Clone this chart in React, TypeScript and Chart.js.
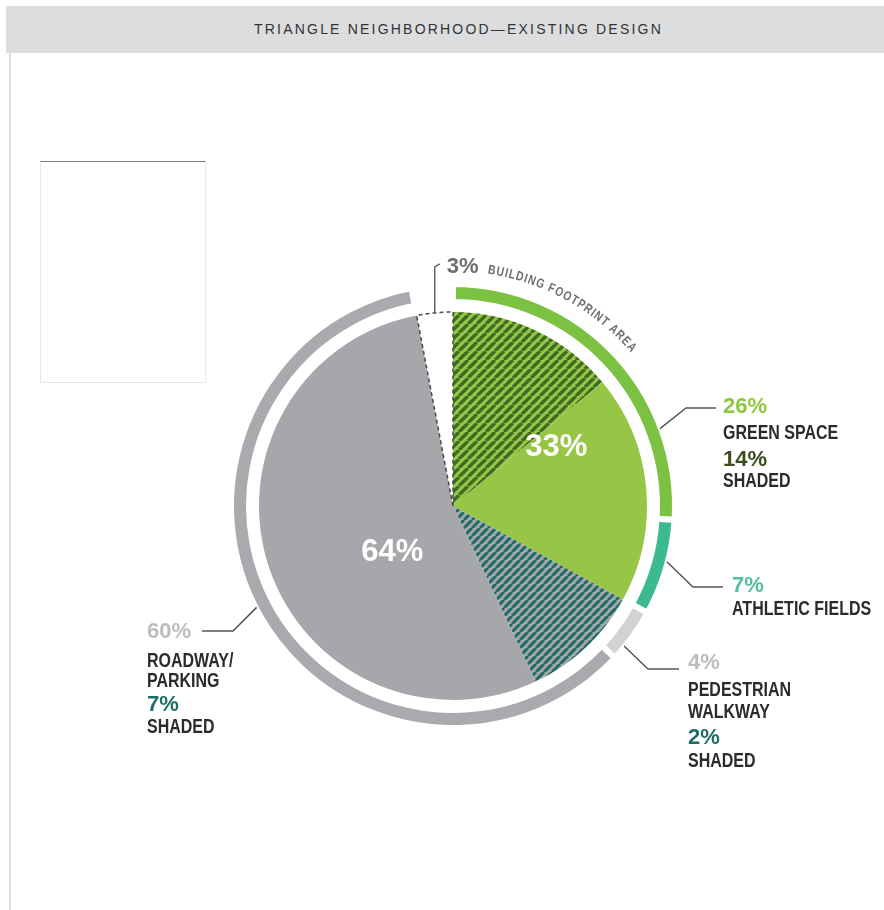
import React, { useEffect, useRef } from 'react';
import { Chart, registerables } from 'chart.js';

Chart.register(...registerables);

// ---------- data ----------
const TITLE = 'TRIANGLE NEIGHBORHOOD\u2014EXISTING DESIGN';
const ringLabels = ['Building footprint area', 'Green space', 'Athletic fields', 'Pedestrian walkway', 'Roadway/parking'];
const ringValues = [3, 26, 7, 4, 60];
const pieLabels = ['Building footprint area', 'Green space (shaded)', 'Green space', 'Roadway & walkway (shaded)', 'Roadway & walkway'];
const pieValues = [3, 14, 19, 10, 54];
const shadedLabels = ['Green space', 'Pedestrian walkway', 'Roadway/parking'];
const shadedValues = [14, 2, 7];
const pieTotals = [33, 64];
const BUILDING_TEXT = 'BUILDING FOOTPRINT AREA';

const pct = (v: number) => `${v}%`;

// ---------- styles ----------
const C = {
  ringGreen: '#7cc242',
  ringTeal: '#3cb98d',
  ringPed: '#d1d2d4',
  ringGray: '#a9aaae',
  pieGreen: '#97c647',
  greenStripe: '#3f6b23',
  pieGray: '#a6a7ab',
  tealStripe: '#1f6b67',
  lightGreenTxt: '#8dc63f',
  olive: '#3c4a1c',
  athleticTxt: '#52c09c',
  grayTxt: '#bcbdc0',
  darkTeal: '#1c6e68',
  word: '#2b2b2b',
  leader: '#555555',
};

function hatch(bg: string, fg: string, size: number, lw: number) {
  const c = document.createElement('canvas');
  c.width = size;
  c.height = size;
  const g = c.getContext('2d')!;
  g.fillStyle = bg;
  g.fillRect(0, 0, size, size);
  g.strokeStyle = fg;
  g.lineWidth = lw;
  g.beginPath();
  for (const k of [-size, 0, size]) {
    g.moveTo(k, size);
    g.lineTo(k + size, 0);
  }
  g.stroke();
  return g.createPattern(c, 'repeat')!;
}

const toXY = (cx: number, cy: number, r: number, degFromTop: number) => {
  const a = ((degFromTop - 90) * Math.PI) / 180;
  return [cx + r * Math.cos(a), cy + r * Math.sin(a)];
};

const overlayPlugin = {
  id: 'overlay',
  afterDatasetsDraw(chart: any) {
    const ctx: CanvasRenderingContext2D = chart.ctx;
    const ring = chart.getDatasetMeta(0).data as any[];
    const pie = chart.getDatasetMeta(2).data as any[];
    const cx = ring[0].x;
    const cy = ring[0].y;
    const ringOuter = ring[0].outerRadius - 3;
    const pieR = pie[0].outerRadius;

    // dashed outline of the building footprint slice
    const b = pie[0];
    ctx.save();
    ctx.strokeStyle = '#4a4a4a';
    ctx.lineWidth = 1.5;
    ctx.setLineDash([4, 3]);
    ctx.beginPath();
    ctx.moveTo(cx, cy);
    ctx.arc(cx, cy, pieR, b.startAngle, b.endAngle);
    ctx.closePath();
    ctx.stroke();
    ctx.restore();

    // bracket from building slice
    const mid = (b.startAngle + b.endAngle) / 2;
    const bx = cx + pieR * Math.cos(mid);
    const by = cy + pieR * Math.sin(mid);
    ctx.save();
    ctx.strokeStyle = '#666';
    ctx.lineWidth = 1.5;
    ctx.beginPath();
    ctx.moveTo(bx, by);
    ctx.lineTo(bx, by - 46);
    ctx.lineTo(bx + 5, by - 49);
    ctx.stroke();
    ctx.fillStyle = '#6d6e71';
    ctx.font = 'bold 22px "Liberation Sans", Arial, sans-serif';
    ctx.textBaseline = 'alphabetic';
    ctx.fillText(pct(ringValues[0]), bx + 12, by - 40);
    ctx.restore();

    // curved text
    ctx.save();
    ctx.fillStyle = '#6d6e71';
    ctx.font = 'bold 13px "Liberation Sans", Arial, sans-serif';
    ctx.textAlign = 'center';
    ctx.textBaseline = 'alphabetic';
    const rText = 235;
    const sx = 0.8;
    const spacing = 1.0;
    let theta = 8.3;
    for (const ch of BUILDING_TEXT) {
      const w = ctx.measureText(ch).width * sx + spacing;
      const center = theta + ((w / 2) / rText) * (180 / Math.PI);
      ctx.save();
      ctx.translate(cx, cy);
      ctx.rotate((center * Math.PI) / 180);
      ctx.translate(0, -rText);
      ctx.scale(sx, 1);
      ctx.fillText(ch, 0, 0);
      ctx.restore();
      theta += (w / rText) * (180 / Math.PI);
    }
    ctx.restore();

    // leader lines
    const leaders: [number, number[][]][] = [
      [69.5, [[686, 408], [716, 408]]],
      [104.6, [[693, 587], [723, 587]]],
      [129.3, [[648, 669], [679, 669]]],
      [242.7, [[233, 631], [202, 631]]],
    ];
    ctx.save();
    ctx.strokeStyle = C.leader;
    ctx.lineWidth = 1.5;
    for (const [ang, pts] of leaders) {
      const [sx0, sy0] = toXY(cx, cy, ringOuter + 2, ang);
      ctx.beginPath();
      ctx.moveTo(sx0, sy0);
      for (const [x, y] of pts) ctx.lineTo(x, y);
      ctx.stroke();
    }
    ctx.restore();

    // totals inside the pie
    ctx.save();
    ctx.fillStyle = '#ffffff';
    ctx.font = 'bold 31px "Liberation Sans", Arial, sans-serif';
    ctx.textAlign = 'center';
    ctx.textBaseline = 'alphabetic';
    const gMid = (pie[1].startAngle + pie[2].endAngle) / 2;
    const yMid = (pie[3].startAngle + pie[4].endAngle) / 2;
    ctx.fillText(pct(pieTotals[0]), cx + 120 * Math.cos(gMid), cy + 120 * Math.sin(gMid) + 11);
    ctx.fillText(pct(pieTotals[1]), cx + 75 * Math.cos(yMid), cy + 75 * Math.sin(yMid) + 11);
    ctx.restore();
  },
};

type LineSpec = { t: string; b: number; pctLine: boolean; c?: string };

function Label({ x, lines }: { x: number; lines: LineSpec[] }) {
  return (
    <>
      {lines.map((l, i) => {
        const size = l.pctLine ? 22 : 20.5;
        return (
          <div
            key={i}
            style={{
              position: 'absolute',
              left: x,
              top: l.b - 0.8465 * size,
              fontSize: size,
              lineHeight: `${size}px`,
              fontWeight: 'bold',
              fontFamily: '"Liberation Sans", Arial, sans-serif',
              color: l.c || C.word,
              whiteSpace: 'nowrap',
              transform: `scaleX(${l.pctLine ? 1 : 0.78})`,
              transformOrigin: 'left top',
            }}
          >
            {l.t}
          </div>
        );
      })}
    </>
  );
}

export default function App() {
  const ref = useRef<HTMLCanvasElement>(null);

  useEffect(() => {
    const canvas = ref.current!;
    const ctx = canvas.getContext('2d')!;
    const greenHatch = hatch(C.pieGreen, C.greenStripe, 9, 3.4);
    const tealHatch = hatch(C.pieGray, C.tealStripe, 8, 3.0);
    const total = ringValues.reduce((a, v) => a + v, 0);

    const chart = new Chart(ctx, {
      type: 'doughnut',
      data: {
        labels: ringLabels,
        datasets: [
          {
            label: 'Ring',
            data: ringValues,
            backgroundColor: ['rgba(0,0,0,0)', C.ringGreen, C.ringTeal, C.ringPed, C.ringGray],
            borderColor: '#ffffff',
            borderWidth: 6,
            weight: 18,
          } as any,
          {
            label: 'Spacer',
            data: [1],
            backgroundColor: ['rgba(0,0,0,0)'],
            borderWidth: 0,
            weight: 10,
          } as any,
          {
            label: 'Pie',
            data: pieValues,
            backgroundColor: ['#ffffff', greenHatch, C.pieGreen, tealHatch, C.pieGray],
            borderWidth: 0,
            weight: 194,
          } as any,
        ],
      },
      options: {
        responsive: false,
        animation: false,
        events: [],
        rotation: -(ringValues[0] / total) * 360,
        radius: 222,
        cutout: 0,
        layout: { padding: { left: 30, right: 8, top: 110, bottom: 8 } },
        plugins: { legend: { display: false }, tooltip: { enabled: false } },
      } as any,
      plugins: [overlayPlugin],
    });
    return () => chart.destroy();
  }, []);

  return (
    <div
      style={{
        position: 'absolute',
        left: 0,
        top: 0,
        width: 884,
        height: 910,
        overflow: 'hidden',
        background: '#ffffff',
        fontFamily: '"Liberation Sans", Arial, sans-serif',
      }}
    >
      <div style={{ position: 'absolute', left: 6, top: 6, width: 878, height: 47, background: '#dcdddf' }} />
      <div
        style={{
          position: 'absolute',
          left: 0,
          top: 6,
          width: 917,
          height: 47,
          lineHeight: '47px',
          textAlign: 'center',
          fontSize: 14,
          letterSpacing: '2.2px',
          color: '#333',
        }}
      >
        {TITLE}
      </div>
      <div style={{ position: 'absolute', left: 9, top: 53, width: 2, height: 857, background: '#dedede' }} />
      <div
        style={{
          position: 'absolute',
          left: 40,
          top: 161,
          width: 166,
          height: 222,
          boxSizing: 'border-box',
          border: '1px solid #e8e8e8',
          borderTop: '1px solid #7a7a7a',
        }}
      />
      <canvas ref={ref} width={884} height={910} style={{ position: 'absolute', left: 0, top: 0 }} />

      <Label
        x={723}
        lines={[
          { t: pct(ringValues[1]), b: 414, pctLine: true, c: C.lightGreenTxt },
          { t: 'GREEN SPACE', b: 439, pctLine: false },
          { t: pct(shadedValues[0]), b: 467, pctLine: true, c: C.olive },
          { t: 'SHADED', b: 487, pctLine: false },
        ]}
      />
      <Label
        x={732}
        lines={[
          { t: pct(ringValues[2]), b: 593, pctLine: true, c: C.athleticTxt },
          { t: 'ATHLETIC FIELDS', b: 615, pctLine: false },
        ]}
      />
      <Label
        x={688}
        lines={[
          { t: pct(ringValues[3]), b: 670, pctLine: true, c: C.grayTxt },
          { t: 'PEDESTRIAN', b: 696, pctLine: false },
          { t: 'WALKWAY', b: 718, pctLine: false },
          { t: pct(shadedValues[1]), b: 745, pctLine: true, c: C.darkTeal },
          { t: 'SHADED', b: 767, pctLine: false },
        ]}
      />
      <Label
        x={147}
        lines={[
          { t: pct(ringValues[4]), b: 639, pctLine: true, c: C.grayTxt },
          { t: 'ROADWAY/', b: 667, pctLine: false },
          { t: 'PARKING', b: 687, pctLine: false },
          { t: pct(shadedValues[2]), b: 712, pctLine: true, c: C.darkTeal },
          { t: 'SHADED', b: 733, pctLine: false },
        ]}
      />
    </div>
  );
}
